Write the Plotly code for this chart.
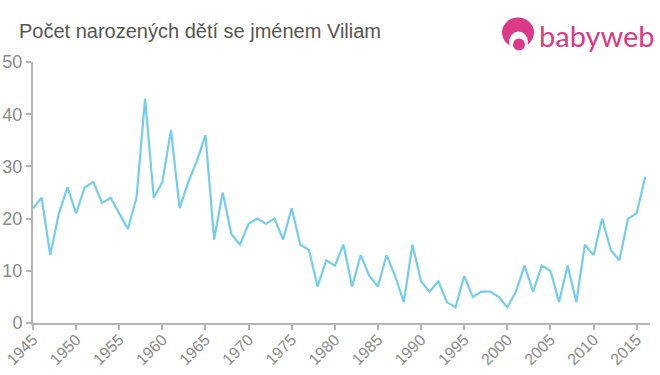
import plotly.graph_objects as go

years = list(range(1945, 2017))
counts = [22, 24, 13, 21, 26, 21, 26, 27, 23, 24, 21, 18, 24, 43, 24, 27, 37, 22, 27, 31, 36,
          16, 25, 17, 15, 19, 20, 19, 20, 16, 22, 15, 14, 7, 12, 11, 15, 7, 13, 9, 7, 13, 9, 4,
          15, 8, 6, 8, 4, 3, 9, 5, 6, 6, 5, 3, 6, 11, 6, 11, 10, 4, 11, 4, 15, 13, 20, 14, 12,
          20, 21, 28]
title_text = "Počet narozených dětí se jménem Viliam"
logo_text = "babyweb"
x_ticks = list(range(1945, 2016, 5))
y_ticks = [0, 10, 20, 30, 40, 50]

W, H = 660, 375
L, R, T, B = 33, 650, 61.5, 323
PINK = "#dc3a88"
GREY = "#8a8a8a"
AXIS = "#b3b3b3"

def px(x):
    return (x - L) / (R - L)

def py(y):
    return (B - y) / (B - T)

fig = go.Figure(go.Scatter(x=years, y=counts, mode="lines",
                           line=dict(color="#74cdec", width=2.2), hoverinfo="x+y"))

fig.update_layout(
    width=W, height=H, autosize=False, showlegend=False,
    paper_bgcolor="white", plot_bgcolor="white",
    margin=dict(l=L, r=W - R, t=T, b=H - B, pad=0),
    font=dict(family="Liberation Sans, Arial, sans-serif", color=GREY),
    xaxis=dict(range=[1945, 2016.55], tickmode="array", tickvals=x_ticks,
               ticktext=[str(v) for v in x_ticks], tickangle=-45, automargin=False,
               ticks="outside", ticklen=5, tickwidth=1.5, tickcolor=AXIS, ticklabelstandoff=-6,
               showline=True, linecolor=AXIS, linewidth=2, showgrid=False, zeroline=False,
               tickfont=dict(size=16, color=GREY)),
    yaxis=dict(range=[0, 50], tickmode="array", tickvals=y_ticks, automargin=False,
               ticks="outside", ticklen=5, tickwidth=1.5, tickcolor=AXIS,
               showline=True, linecolor=AXIS, linewidth=2, showgrid=False, zeroline=False,
               tickfont=dict(size=18, color=GREY)),
    annotations=[
        dict(text=title_text, xref="paper", yref="paper", x=px(19), y=py(30.5),
             xanchor="left", yanchor="middle", showarrow=False,
             xshift=-2, font=dict(size=20, color="#555555")),
        dict(text=logo_text, xref="paper", yref="paper", x=px(537), y=py(35),
             xanchor="left", yanchor="middle", showarrow=False,
             font=dict(size=29, color=PINK, family="Lato, sans-serif")),
    ],
    shapes=[
        dict(type="circle", xref="paper", yref="paper", layer="above",
             x0=px(502), x1=px(534), y0=py(17), y1=py(47),
             fillcolor=PINK, line=dict(width=0)),
        dict(type="circle", xref="paper", yref="paper", layer="above",
             x0=px(509), x1=px(528), y0=py(31), y1=py(52),
             fillcolor="white", line=dict(width=0)),
        dict(type="circle", xref="paper", yref="paper", layer="above",
             x0=px(513), x1=px(525), y0=py(38), y1=py(50),
             fillcolor=PINK, line=dict(width=0)),
    ],
)

fig.write_html("out.html", config={"displayModeBar": False},
               post_script="document.body.style.margin='0';")
